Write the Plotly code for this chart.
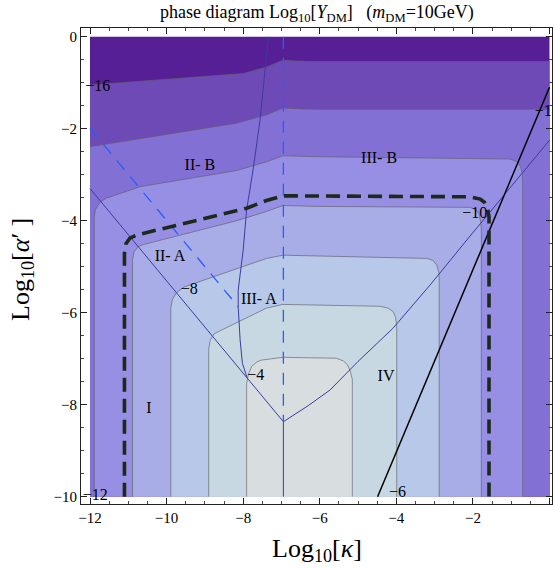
import plotly.graph_objects as go

# ---------------- data ----------------
# domain of the computed region
X_LIM = [-12, 0]
Y_LIM = [-10, 0]

# contour levels (Log10[Y_DM]) and the fill colour of the region above each level
LEVELS = [-16, -14, -12, -10, -8, -6, -4]
TOP_COLOR = "#561f96"
LEVEL_COLORS = ["#6e4ab7", "#8270d5", "#978fe4", "#a8ade8", "#b8c8e8", "#c8d8e3", "#d8dee0"]

# contour curves (open curves; the first two run across the full width)
C16_X = [-12, -10.0, -8.0, -7.39, -6.96, -6.6, -6.0, 0]
C16_Y = [-1.05, -0.92, -0.80, -0.66, -0.51, -0.53, -0.54, -0.54]

C14_X = [-12, -10.0, -8.17, -7.39, -6.96, -6.5, -6.0, 0]
C14_Y = [-2.39, -2.13, -1.88, -1.70, -1.55, -1.57, -1.58, -1.58]

C12_X = [-11.89, -11.89, -11.86, -11.74, -11.57, -10.69, -8.17, -7.39, -6.96, -6.0, -1.04, -0.86, -0.76, -0.71, -0.70, -0.70]
C12_Y = [-10.0, -3.95, -3.76, -3.60, -3.51, -3.26, -2.91, -2.72, -2.59, -2.61, -2.66, -2.71, -2.82, -2.98, -3.2, -10.0]

C10_X = [-10.89, -10.89, -10.85, -10.75, -10.61, -8.17, -7.39, -6.96, -6.0, -2.08, -1.93, -1.84, -1.80, -1.78, -1.78]
C10_Y = [-10.0, -4.85, -4.68, -4.57, -4.52, -4.00, -3.80, -3.67, -3.69, -3.71, -3.76, -3.86, -4.02, -4.2, -10.0]

C8_X = [-9.89, -9.89, -9.85, -9.75, -9.54, -7.39, -6.96, -5.0, -3.21, -3.05, -2.95, -2.89, -2.88, -2.88]
C8_Y = [-10.0, -5.90, -5.72, -5.57, -5.44, -4.82, -4.75, -4.78, -4.82, -4.86, -4.96, -5.12, -5.3, -10.0]

C6_X = [-8.90, -8.90, -8.86, -8.76, -8.52, -7.39, -6.96, -5.5, -4.43, -4.22, -4.08, -4.02, -3.99, -3.99]
C6_Y = [-10.0, -6.80, -6.60, -6.46, -6.36, -5.90, -5.82, -5.84, -5.86, -5.90, -5.98, -6.10, -6.3, -10.0]

C4_X = [-7.91, -7.91, -7.87, -7.78, -7.64, -7.52, -6.96, -5.57, -5.38, -5.27, -5.20, -5.15, -5.15]
C4_Y = [-10.0, -7.55, -7.36, -7.17, -7.07, -7.03, -6.97, -6.99, -7.05, -7.14, -7.28, -7.45, -10.0]

CONTOURS_X = [C16_X, C14_X, C12_X, C10_X, C8_X, C6_X, C4_X]
CONTOURS_Y = [C16_Y, C14_Y, C12_Y, C10_Y, C8_Y, C6_Y, C4_Y]

# contour labels
CLABEL_TEXT = ["\u221216", "\u221214", "\u221212", "\u221210", "\u22128", "\u22126", "\u22124"]
CLABEL_X = [-11.80, -0.06, -11.86, -1.95, -9.41, -3.97, -7.67]
CLABEL_Y = [-1.10, -1.64, -9.98, -3.85, -5.51, -9.91, -7.38]

# phase boundary (thick dashed)
BOUND_X = [-11.10, -11.10, -11.06, -10.96, -10.78, -7.91, -7.39, -6.95, -2.09, -1.81, -1.70, -1.62, -1.58, -1.58]
BOUND_Y = [-10.0, -4.70, -4.50, -4.38, -4.31, -3.73, -3.56, -3.46, -3.48, -3.53, -3.60, -3.72, -3.92, -10.0]

# blue dashed lines
BLUE_DIAG_X = [-12.0, -8.13]
BLUE_DIAG_Y = [-1.99, -5.87]
BLUE_VERT_X = [-6.95, -6.95]
BLUE_VERT_Y = [0.0, -8.37]

# thin navy region boundaries
NAVY_DIAG_X = [-12.0, -6.95]
NAVY_DIAG_Y = [-3.30, -8.37]
NAVY_CURVE_X = [-6.95, -6.30, -5.73, -5.0, -4.09, -3.1, -2.16, 0.0]
NAVY_CURVE_Y = [-8.37, -8.02, -7.68, -7.06, -6.34, -5.38, -4.42, -2.25]
NAVY_VERT_X = [-6.95, -6.95]
NAVY_VERT_Y = [-8.37, -10.0]
NAVY_BEND_X = [-7.34, -7.56, -7.73, -7.91, -8.00, -8.13, -8.13, -8.08, -8.02, -7.96, -7.90]
NAVY_BEND_Y = [0.0, -1.81, -2.83, -3.77, -4.64, -5.51, -5.87, -6.59, -7.10, -7.28, -7.41]

# black solid line
BLACK_X = [-4.49, 0.0]
BLACK_Y = [-10.0, -1.10]

# region names
REGION_TEXT = ["II- B", "III- B", "II- A", "III- A", "IV", "I"]
REGION_X = [-9.13, -4.45, -9.91, -7.59, -4.27, -10.46]
REGION_Y = [-2.81, -2.65, -4.78, -5.72, -7.39, -8.09]

X_TICKS = [-12, -10, -8, -6, -4, -2, 0]
Y_TICKS = [0, -2, -4, -6, -8, -10]

SERIF = "Liberation Serif, Times New Roman, serif"

# ---------------- figure ----------------
fig = go.Figure()

# background: region below every level (darkest band)
fig.add_trace(go.Scatter(
    x=[X_LIM[0], X_LIM[1], X_LIM[1], X_LIM[0]],
    y=[Y_LIM[1], Y_LIM[1], Y_LIM[0], Y_LIM[0]],
    fill="toself", fillcolor=TOP_COLOR, mode="lines", line=dict(width=0),
    hoverinfo="skip", showlegend=False))

for i, (cx, cy) in enumerate(zip(CONTOURS_X, CONTOURS_Y)):
    px, py = list(cx), list(cy)
    if i < 2:  # curves spanning whole width: close through the bottom corners
        px += [X_LIM[1], X_LIM[0]]
        py += [Y_LIM[0], Y_LIM[0]]
    fig.add_trace(go.Scatter(
        x=px, y=py, fill="toself", fillcolor=LEVEL_COLORS[i], mode="lines",
        line=dict(width=0), hoverinfo="skip", showlegend=False))

for cx, cy in zip(CONTOURS_X, CONTOURS_Y):
    fig.add_trace(go.Scatter(
        x=cx, y=cy, mode="lines", line=dict(color="rgba(95,95,105,0.65)", width=1),
        hoverinfo="skip", showlegend=False))

# navy region boundaries
for lx, ly in [(NAVY_DIAG_X, NAVY_DIAG_Y), (NAVY_CURVE_X, NAVY_CURVE_Y),
               (NAVY_VERT_X, NAVY_VERT_Y), (NAVY_BEND_X, NAVY_BEND_Y)]:
    fig.add_trace(go.Scatter(
        x=lx, y=ly, mode="lines", line=dict(color="#3c3ca0", width=1),
        hoverinfo="skip", showlegend=False))

# blue dashed
for lx, ly in [(BLUE_DIAG_X, BLUE_DIAG_Y), (BLUE_VERT_X, BLUE_VERT_Y)]:
    fig.add_trace(go.Scatter(
        x=lx, y=ly, mode="lines", line=dict(color="#2a5cff", width=1.3, dash="12px,9px"),
        hoverinfo="skip", showlegend=False))

# black line
fig.add_trace(go.Scatter(
    x=BLACK_X, y=BLACK_Y, mode="lines", line=dict(color="black", width=1.5),
    hoverinfo="skip", showlegend=False))

# thick dashed boundary
fig.add_trace(go.Scatter(
    x=BOUND_X, y=BOUND_Y, mode="lines",
    line=dict(color="#1b2a1b", width=3.6, dash="14px,7px"),
    hoverinfo="skip", showlegend=False))

# contour labels
fig.add_trace(go.Scatter(
    x=CLABEL_X, y=CLABEL_Y, mode="text", text=CLABEL_TEXT,
    textfont=dict(family=SERIF, size=16, color="black"), cliponaxis=True,
    hoverinfo="skip", showlegend=False))

# region labels
fig.add_trace(go.Scatter(
    x=REGION_X, y=REGION_Y, mode="text", text=REGION_TEXT,
    textfont=dict(family=SERIF, size=16, color="black"), cliponaxis=True,
    hoverinfo="skip", showlegend=False))

axis_common = dict(
    showline=True, linecolor="#222", linewidth=1, mirror="allticks",
    ticks="inside", ticklen=6, tickwidth=1, tickcolor="#222",
    showgrid=False, zeroline=False,
    tickfont=dict(family=SERIF, size=15, color="black"),
    minor=dict(ticks="inside", ticklen=3, tickwidth=1, tickcolor="#444", dtick=0.5, tick0=0, showgrid=False),
)

fig.update_xaxes(range=[-12.235, 0.065], tickvals=X_TICKS, **axis_common)
fig.update_yaxes(range=[-10.159, 0.189], tickvals=Y_TICKS, **axis_common)

fig.update_layout(
    width=553, height=569,
    margin=dict(l=81, r=1, t=28, b=65),
    plot_bgcolor="white", paper_bgcolor="white",
    showlegend=False,
    annotations=[
        dict(text="phase diagram Log<sub>10</sub>[<i>Y</i><sub>DM</sub>]\u00a0\u00a0 (<i>m</i><sub>DM</sub>=10GeV)",
             xref="paper", yref="paper", x=0.5, y=1.0, yshift=15, yanchor="middle",
             showarrow=False, font=dict(family=SERIF, size=18, color="black")),
        dict(text="Log<sub>10</sub>[<i>κ</i>]", xref="paper", yref="paper",
             x=0.5, y=0, yshift=-46, yanchor="middle", showarrow=False,
             font=dict(family=SERIF, size=26, color="black")),
        dict(text="Log<sub>10</sub>[<i>α</i>′\u00a0]", xref="paper", yref="paper",
             x=0, xshift=-59, y=0.5, yshift=-4, textangle=-90, xanchor="center", showarrow=False,
             font=dict(family=SERIF, size=26, color="black")),
    ],
)

fig.write_html("out.html", config={"displayModeBar": False},
               post_script="document.body.style.margin='0px';")
